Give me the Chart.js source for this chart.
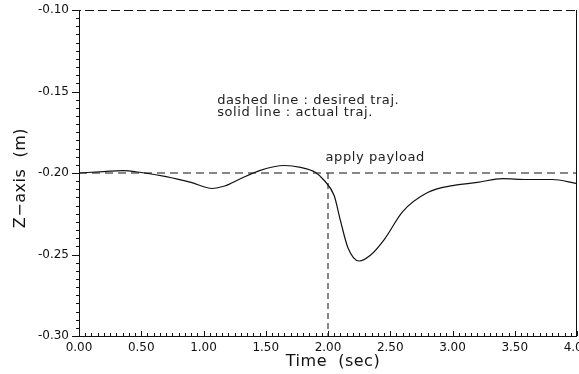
<!DOCTYPE html>
<html lang="en">
<head>
    <meta charset="UTF-8">
    <title>Z-axis trajectory</title>
    <script src="https://cdn.jsdelivr.net/npm/chart.js"></script>
    <style>
        html, body { margin: 0; padding: 0; background: #fff; }
        #wrap { width: 579px; height: 374px; }
    </style>
</head>
<body>
    <div id="wrap"><canvas id="zChart"></canvas></div>
    <script>
        // time (sec) and z position (m)
        const actualTime = [0, 0.2, 0.35, 0.5, 0.7, 0.9, 1.07, 1.17, 1.3, 1.45, 1.65, 1.78, 1.9, 1.97,
                            2.05, 2.1, 2.16, 2.25, 2.34, 2.45, 2.6, 2.8, 3.0, 3.2, 3.4, 3.6, 3.8, 4.0];
        const actualZ = [-0.200, -0.1991, -0.1985, -0.1997, -0.2022, -0.2058, -0.2095, -0.2080, -0.2034,
                         -0.1985, -0.1954, -0.1966, -0.1997, -0.2046, -0.2140, -0.2292, -0.2458, -0.2540,
                         -0.2505, -0.2410, -0.2237, -0.2120, -0.2077, -0.2058, -0.2034, -0.2040, -0.2040, -0.2065];
        const desiredTime = [0, 4];
        const desiredZ = [-0.20, -0.20];
        const payloadTime = [2.0, 2.0];
        const payloadZ = [-0.20, -0.30];

        const notes = [
            { x: 1.11, y: -0.1557, text: 'dashed line : desired traj.' },
            { x: 1.11, y: -0.1631, text: 'solid line : actual traj.' },
            { x: 1.98, y: -0.1906, text: 'apply payload' }
        ];

        const toPoints = (xs, ys) => xs.map((x, i) => ({ x: x, y: ys[i] }));

        // axis frame, tick marks, annotations and axis titles
        const plotDecor = {
            id: 'plotDecor',
            afterDraw(chart) {
                const c = chart.ctx;
                const a = chart.chartArea;
                const xs = chart.scales.x, ys = chart.scales.y;
                c.save();
                c.strokeStyle = '#111';
                c.lineWidth = 1;
                // left + bottom axis
                c.beginPath();
                c.moveTo(a.left + 0.5, a.top);
                c.lineTo(a.left + 0.5, a.bottom + 0.5);
                c.lineTo(a.right, a.bottom + 0.5);
                c.stroke();
                // right frame
                c.beginPath();
                c.moveTo(a.right - 0.5, a.top);
                c.lineTo(a.right - 0.5, a.bottom);
                c.stroke();
                // top frame (dashed look)
                c.setLineDash([9, 4]);
                c.beginPath();
                c.moveTo(a.left - 7, a.top + 0.5);
                c.lineTo(a.right, a.top + 0.5);
                c.stroke();
                c.setLineDash([]);

                // y ticks
                for (let i = 0; i <= 40; i++) {
                    const v = -0.30 + i * 0.005;
                    const py = Math.round(ys.getPixelForValue(v)) + 0.5;
                    const len = (i % 10 === 0) ? 7 : 3;
                    c.beginPath();
                    c.moveTo(a.left - len, py);
                    c.lineTo(a.left + 1, py);
                    c.stroke();
                }
                // x ticks
                for (let i = 0; i <= 80; i++) {
                    const v = i * 0.05;
                    const px = Math.round(xs.getPixelForValue(v)) + 0.5;
                    const len = (i % 10 === 0) ? 5 : 3;
                    c.beginPath();
                    c.moveTo(px, a.bottom);
                    c.lineTo(px, a.bottom - len);
                    c.stroke();
                }

                // annotations
                c.fillStyle = '#222';
                c.font = '13px "DejaVu Sans"';
                c.letterSpacing = '0.6px';
                c.textBaseline = 'middle';
                c.textAlign = 'left';
                notes.forEach(n => {
                    c.fillText(n.text, xs.getPixelForValue(n.x), ys.getPixelForValue(n.y));
                });

                // axis titles
                c.letterSpacing = '0.5px';
                c.fillStyle = '#111';
                c.font = '16px "DejaVu Sans"';
                c.textAlign = 'center';
                c.fillText('Time  (sec)', xs.getPixelForValue(2.04), 362);
                c.translate(21, ys.getPixelForValue(-0.2031));
                c.rotate(-Math.PI / 2);
                c.fillText('Z\u2212axis  (m)', 0, 0);
                c.restore();
            }
        };

        const ctx = document.getElementById('zChart').getContext('2d');
        const zChart = new Chart(ctx, {
            type: 'scatter',
            data: {
                datasets: [
                    {
                        label: 'actual',
                        data: toPoints(actualTime, actualZ),
                        showLine: true,
                        borderColor: '#111',
                        borderWidth: 1.2,
                        pointRadius: 0,
                        cubicInterpolationMode: 'monotone'
                    },
                    {
                        label: 'desired',
                        data: toPoints(desiredTime, desiredZ),
                        showLine: true,
                        borderColor: '#111',
                        borderWidth: 1,
                        borderDash: [8, 5],
                        pointRadius: 0
                    },
                    {
                        label: 'payload',
                        data: toPoints(payloadTime, payloadZ),
                        showLine: true,
                        borderColor: '#111',
                        borderWidth: 1,
                        borderDash: [6, 4],
                        pointRadius: 0
                    }
                ]
            },
            options: {
                responsive: true,
                maintainAspectRatio: false,
                animation: false,
                layout: { padding: { top: 10, right: 2, left: 0, bottom: 0 } },
                plugins: {
                    legend: { display: false },
                    tooltip: { enabled: false }
                },
                scales: {
                    x: {
                        type: 'linear',
                        min: 0,
                        max: 4,
                        border: { display: false },
                        grid: { display: false, drawTicks: false },
                        ticks: {
                            stepSize: 0.5,
                            padding: 5,
                            color: '#111',
                            font: { family: '"DejaVu Sans"', size: 12 },
                            callback: v => v.toFixed(2)
                        },
                        afterFit: s => { s.height = 38; s.paddingLeft = 0; s.paddingRight = 0; }
                    },
                    y: {
                        min: -0.30,
                        max: -0.10,
                        border: { display: false },
                        grid: { display: false, drawTicks: false },
                        ticks: {
                            stepSize: 0.05,
                            padding: 10,
                            color: '#111',
                            font: { family: '"DejaVu Sans"', size: 12 },
                            callback: v => v.toFixed(2)
                        },
                        afterFit: s => { s.width = 79; s.paddingTop = 0; s.paddingBottom = 0; }
                    }
                }
            },
            plugins: [plotDecor]
        });
    </script>
</body>
</html>
